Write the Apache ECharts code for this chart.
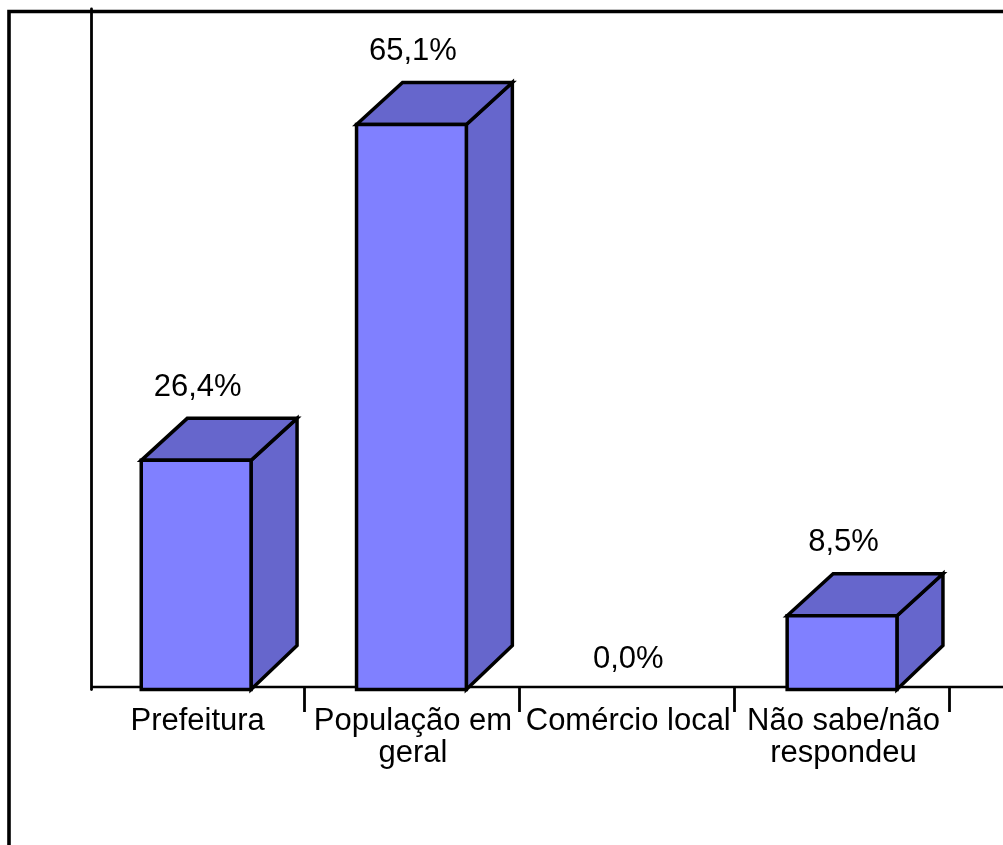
<!DOCTYPE html>
<html>
<head>
<meta charset="utf-8">
<style>html,body{margin:0;padding:0;background:#fff}#chart{width:1003px;height:845px}</style>
<script src="https://cdn.jsdelivr.net/npm/echarts@6/dist/echarts.min.js"></script>
</head>
<body>
<div id="chart"></div>
<script>
// Survey answers, percentage of respondents per category
const categories = ['Prefeitura', 'População em\ngeral', 'Comércio local', 'Não sabe/não\nrespondeu'];
const percentages = [26.4, 65.1, 0.0, 8.5];

const FRONT_COLOR = '#8080FF';
const SIDE_COLOR = '#6666CC';
const DEPTH_X = 46;
const DEPTH_Y = 42;
const FONT = '"Liberation Sans", Arial, sans-serif';

const formatPercent = v => v.toFixed(1).replace('.', ',') + '%';

// Draws one extruded column: front face, top face, side face and value label
function renderBox(params, api) {
  const idx = api.value(0);
  const val = api.value(1);
  const top = api.coord([idx, val]);
  const base = api.coord([idx, 0]);
  const width = api.size([1, 0])[0] * 0.51;
  const left = top[0] - width / 2;
  const right = top[0] + width / 2;
  const line = { stroke: '#000', lineWidth: 3.5, lineJoin: 'miter' };
  const children = [];
  if (val > 0) {
    children.push(
      { type: 'polygon', shape: { points: [[right, top[1]], [right + DEPTH_X, top[1] - DEPTH_Y], [right + DEPTH_X, base[1] - DEPTH_Y - 2], [right, base[1]]] },
        style: Object.assign({ fill: SIDE_COLOR }, line) },
      { type: 'polygon', shape: { points: [[left, top[1]], [left + DEPTH_X, top[1] - DEPTH_Y], [right + DEPTH_X, top[1] - DEPTH_Y], [right, top[1]]] },
        style: Object.assign({ fill: SIDE_COLOR }, line) },
      { type: 'rect', shape: { x: left, y: top[1], width: right - left, height: base[1] - top[1] },
        style: Object.assign({ fill: FRONT_COLOR }, line) }
    );
  }
  children.push({
    type: 'text',
    style: {
      text: formatPercent(val),
      x: top[0] + 1.5,
      y: val > 0 ? top[1] - 73 : top[1] - 30,
      align: 'center',
      verticalAlign: 'middle',
      fontSize: 31,
      fontFamily: FONT,
      fill: '#000'
    }
  });
  return { type: 'group', children };
}

const chart = echarts.init(document.getElementById('chart'), null, { renderer: 'canvas' });
chart.setOption({
  animation: false,
  backgroundColor: '#fff',
  grid: { left: 88.5, top: 9, width: 1076.5, height: 680.5, outerBoundsMode: 'none' },
  xAxis: {
    type: 'category',
    // trailing empty band carries the ticks past the last column
    data: categories.concat(['']),
    offset: -2.5,
    axisLine: { show: false },
    axisTick: { show: true, length: 25, alignWithLabel: false, interval: i => i > 0, lineStyle: { color: '#000', width: 2.8 } },
    axisLabel: { interval: 0, color: '#000', fontFamily: FONT, fontSize: 31, lineHeight: 32, margin: 18, padding: [0, 0, 0, 3] }
  },
  yAxis: {
    type: 'value',
    min: 0,
    max: 78.4,
    offset: -2.5,
    splitLine: { show: false },
    axisTick: { show: false },
    axisLabel: { show: false },
    axisLine: { show: true, onZero: false, lineStyle: { color: '#000', width: 2.8 } }
  },
  graphic: [
    // Outer chart frame, open to the right and bottom
    {
      type: 'polyline',
      silent: true,
      shape: { points: [[9, 845], [9, 11.5], [1003, 11.5]] },
      style: { fill: null, stroke: '#000', lineWidth: 3.6 }
    },
    // Baseline starting at the vertical axis
    {
      type: 'line',
      silent: true,
      shape: { x1: 91, y1: 687, x2: 1003, y2: 687 },
      style: { stroke: '#000', lineWidth: 2.5 }
    }
  ],
  series: [{
    type: 'custom',
    z: 5,
    renderItem: renderBox,
    encode: { x: 0, y: 1 },
    data: percentages.map((v, i) => [i, v])
  }]
});
</script>
</body>
</html>
